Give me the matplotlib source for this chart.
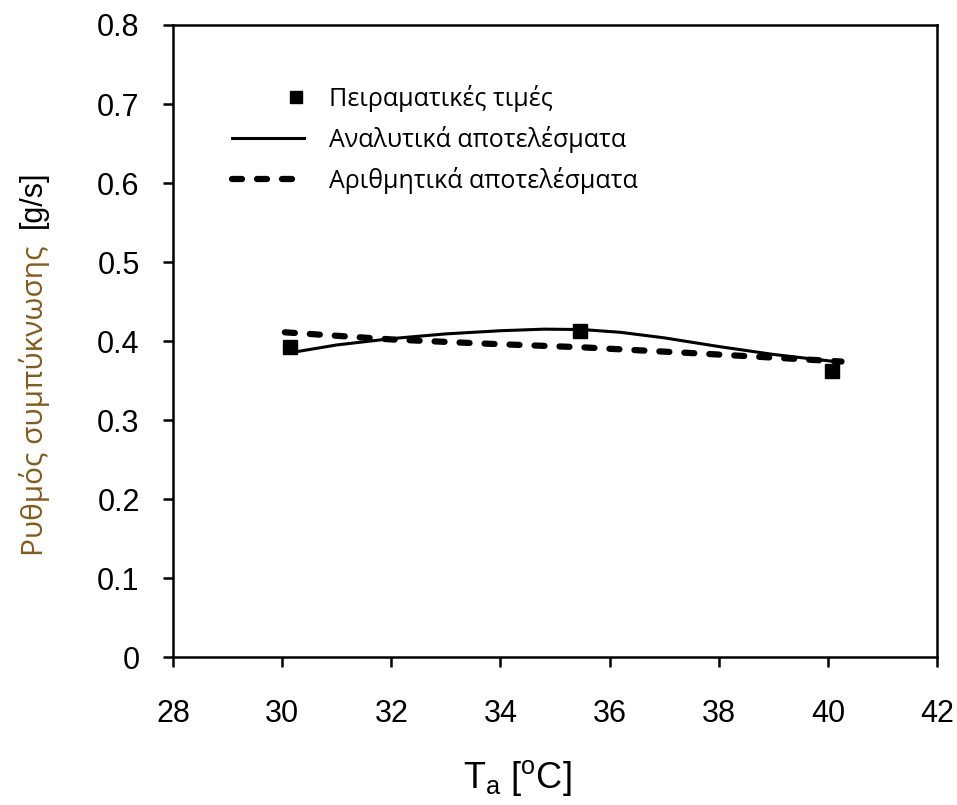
import matplotlib.pyplot as plt
from matplotlib.lines import Line2D
from matplotlib.legend_handler import HandlerLine2D

# data
exp_T = [30.15, 35.45, 40.08]
exp_rate = [0.392, 0.413, 0.362]

anal_T = [30.05, 31.0, 32.0, 33.0, 34.0, 34.8, 35.5, 36.2, 37.0, 38.0, 39.0, 40.25]
anal_rate = [0.384, 0.395, 0.403, 0.409, 0.413, 0.415, 0.4145, 0.411, 0.404, 0.393, 0.383, 0.373]

num_T = [30.05, 32.0, 33.6, 35.5, 37.7, 39.5, 40.25]
num_rate = [0.411, 0.402, 0.397, 0.392, 0.384, 0.377, 0.374]

legend_labels = ['Πειραματικές τιμές', 'Αναλυτικά αποτελέσματα', 'Αριθμητικά αποτελέσματα']

plt.rcParams['font.family'] = ['Liberation Sans', 'DejaVu Sans']
plt.rcParams['mathtext.fontset'] = 'custom'
plt.rcParams['mathtext.rm'] = 'Liberation Sans'
plt.rcParams['mathtext.it'] = 'Liberation Sans'

dash = (0, (1.6, 2.4))


class EndMarker(HandlerLine2D):
    # marker sits at the right end of the handle, like the original
    def get_xdata(self, legend, xdescent, ydescent, width, height, fontsize):
        x = -xdescent + width * 0.89
        return [x], [x]


fig = plt.figure(figsize=(9.57, 8.05), dpi=100)
ax = fig.add_axes([173 / 957, 1 - 657 / 805, (937 - 173) / 957, (657 - 25) / 805])

ax.plot(anal_T, anal_rate, color='black', linewidth=2.2, solid_capstyle='round')
ax.plot(num_T, num_rate, color='black', linewidth=4.5, linestyle=dash,
        dash_capstyle='round')
ax.plot(exp_T, exp_rate, linestyle='none', marker='s', markersize=10, color='black')

ax.set_xlim(28, 42)
ax.set_ylim(0, 0.8)
ax.set_xticks(range(28, 43, 2))
ax.set_yticks([0, 0.1, 0.2, 0.3, 0.4, 0.5, 0.6, 0.7, 0.8])
ax.set_yticklabels(['0', '0.1', '0.2', '0.3', '0.4', '0.5', '0.6', '0.7', '0.8'])
ax.tick_params(axis='both', direction='out', length=7, width=1.8, labelsize=22)
ax.tick_params(axis='y', pad=17)
ax.tick_params(axis='x', pad=23)
for s in ax.spines.values():
    s.set_linewidth(1.8)

fig.text(517 / 957, 1 - 778 / 805, r'T$_\mathrm{a}$ [$^\mathrm{o}$C]', fontsize=26,
         ha='center', va='center')

# y label: greek part in brown, unit in black
fig.text(35 / 957, 1 - 401 / 805, 'Ρυθμός συμπύκνωσης', rotation=90, fontsize=21.5,
         family=['Open Sans', 'DejaVu Sans'], color='#855a1a', ha='center', va='center')
fig.text(33 / 957, 1 - 199 / 805, '[g/s]', rotation=90, fontsize=22,
         color='black', ha='center', va='center')

marker_handle = Line2D([], [], linestyle='none', marker='s', markersize=9, color='black')
handles = [
    marker_handle,
    Line2D([], [], color='black', linewidth=2.2),
    Line2D([], [], color='black', linewidth=4.5, linestyle=dash, dash_capstyle='round'),
]
leg = ax.legend(handles, legend_labels, loc='upper left', bbox_to_anchor=(0.077, 0.905),
                frameon=False, borderpad=0, borderaxespad=0,
                handlelength=2.9, handletextpad=1.0, labelspacing=0.55,
                handler_map={marker_handle: EndMarker()},
                prop={'family': ['Open Sans', 'DejaVu Sans'], 'size': 18})

fig.savefig('out.png', dpi=100)
